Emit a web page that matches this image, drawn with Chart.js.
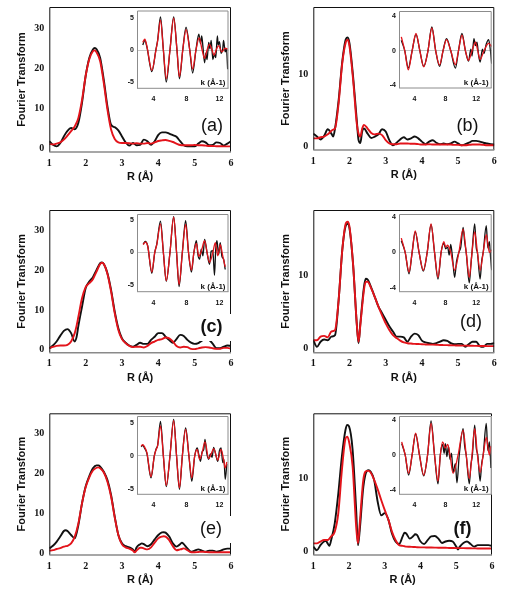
<!DOCTYPE html>
<html><head><meta charset="utf-8">
<script src="https://cdn.jsdelivr.net/npm/chart.js@4/dist/chart.umd.min.js"></script>
<style>
html,body{margin:0;padding:0;background:#fff;}
#wrap{position:relative;width:511px;height:600px;overflow:hidden;}
canvas{position:absolute;left:0;top:0;pointer-events:none;}
</style></head><body><div id="wrap"></div>
<script>
// ---------- tick labels ----------
const rTicks = [1,2,3,4,5,6];
const ftTicksBig = [0,10,20,30];
const ftTicksSmall = [0,10];
const kTicks = [4,8,12];
const chiTicks5 = [-5,0,5];
const chiTicks4 = [-4,0,4];
const panelLabels = ['(a)','(b)','(c)','(d)','(e)','(f)'];

// ---------- Fourier transform magnitudes ----------
const rA = [1.0,1.1,1.2,1.3,1.4,1.5,1.6,1.7,1.8,1.9,2.0,2.1,2.2,2.25,2.3,2.4,2.5,2.6,2.7,2.8,2.9,3.0,3.1,3.2,3.3,3.4,3.5,3.6,3.7,3.8,3.9,4.0,4.1,4.2,4.3,4.4,4.5,4.6,4.7,4.8,4.9,5.0,5.1,5.2,5.3,5.4,5.5,5.6,5.7,5.8,5.9,6.0];
const ftBlackA = [1.7,0.8,0.4,1.2,2.9,4.3,5.0,4.7,6.3,11.3,18,22.5,24.6,25,24.7,22.5,17,10.4,5.8,5.2,4.4,2.9,1.4,0.6,1.25,0.7,0.8,2.1,1.7,0.8,1.7,3.3,3.9,3.9,3.6,3.2,2.8,1.7,0.7,0.4,0.4,0.4,1.1,1.7,1.4,0.7,0.8,1.4,1.25,0.6,1.1,1.7];
const ftRedA = [1.0,0.9,1.1,1.4,2.1,3.1,4.2,5.4,7.5,12,18,22.2,24.2,24.4,23.9,21.7,16.2,9.6,4.6,2.25,1.4,1.25,1.25,1.2,1.1,1.2,1.1,1.1,1.25,1.1,1.4,1.75,1.9,2.0,1.8,1.5,1.1,0.75,0.7,0.7,0.7,0.75,0.7,0.7,0.6,0.5,0.5,0.45,0.45,0.4,0.4,0.4];

const rB = [1.0,1.1,1.2,1.3,1.4,1.5,1.55,1.6,1.7,1.8,1.9,1.95,2.0,2.1,2.2,2.25,2.3,2.35,2.4,2.5,2.6,2.7,2.8,2.9,3.0,3.1,3.2,3.3,3.4,3.5,3.6,3.7,3.8,3.9,4.0,4.1,4.2,4.3,4.4,4.5,4.6,4.7,4.8,4.9,5.0,5.1,5.2,5.3,5.4,5.5,5.6,5.7,5.8,5.9,6.0];
const ftBlackB = [1.8,1.4,1.0,1.5,2.4,1.8,1.4,2.5,6.4,11.7,14.8,15.0,14.2,9.6,3.7,0.9,0.5,2.1,2.5,1.8,1.2,1.4,1.7,2.4,2.1,0.9,0.2,0.55,1.0,1.3,1.0,1.15,1.4,1.15,0.7,0.35,0.7,0.9,0.55,0.35,0.45,0.35,0.45,0.7,0.45,0.2,0.35,0.55,0.8,0.8,0.7,0.55,0.45,0.35,0.3];
const ftRedB = [1.15,1.15,1.3,1.4,1.7,2.2,2.35,2.5,6.0,11.5,14.4,14.7,13.8,9.2,3.2,1.8,1.4,2.5,3.0,2.5,1.9,1.7,1.8,1.6,0.9,0.45,0.35,0.35,0.45,0.45,0.45,0.4,0.4,0.35,0.3,0.3,0.35,0.3,0.3,0.3,0.3,0.3,0.3,0.25,0.25,0.2,0.2,0.25,0.3,0.3,0.3,0.25,0.2,0.2,0.2];

const rC = [1.0,1.1,1.2,1.3,1.4,1.5,1.6,1.7,1.75,1.8,1.9,2.0,2.1,2.2,2.3,2.4,2.45,2.5,2.6,2.7,2.8,2.9,3.0,3.1,3.2,3.3,3.4,3.5,3.6,3.7,3.8,3.9,4.0,4.1,4.2,4.3,4.4,4.5,4.6,4.7,4.8,4.9,5.0,5.1,5.2,5.3,5.4,5.5,5.6,5.7,5.8,5.9,6.0];
const ftBlackC = [0.4,1.1,2.1,3.5,4.75,5.2,4.2,2.1,3.2,6.0,10.8,15.4,17.1,18.2,20,21.7,21.9,21.5,19.2,15,9.6,5.4,2.9,1.8,1.1,0.8,1.25,1.8,1.5,1.5,2.5,3.3,4.2,4.2,3.3,2.5,1.8,2.7,3.75,3.5,2.5,1.8,1.5,1.7,2.3,2.7,2.5,1.5,0.4,0.4,0.8,1.1,1.0];
const ftRedC = [0.4,0.75,1.0,1.1,1.1,1.25,2.1,4.2,6.0,8.3,12.9,15.7,16.7,17.7,19.6,21.5,21.8,21.5,19,14.6,9.2,5,2.7,1.7,1.0,0.7,0.8,0.8,0.6,1.0,1.7,2.1,2.5,2.7,3.1,2.9,2.1,1.0,0.6,0.8,0.7,0.25,0.2,0.4,0.6,0.7,0.6,0.4,0.25,0.3,0.5,0.5,0.3];

const rD = [1.0,1.1,1.2,1.3,1.4,1.5,1.6,1.7,1.8,1.9,1.95,2.0,2.1,2.2,2.25,2.3,2.4,2.45,2.5,2.6,2.7,2.8,2.9,3.0,3.1,3.2,3.3,3.4,3.5,3.6,3.7,3.8,3.9,4.0,4.1,4.2,4.3,4.4,4.5,4.6,4.7,4.8,4.9,5.0,5.1,5.2,5.3,5.4,5.5,5.6,5.7,5.8,5.9,6.0];
const ftBlackD = [1.1,0.2,0.9,1.2,1.1,1.6,1.8,6.6,13.4,16.8,17.0,16.4,11.4,3.4,0.7,3.4,8.4,9.5,9.4,8.3,7.0,5.7,4.8,3.9,3.0,2.3,1.6,1.6,1.5,0.9,1.6,2.0,1.8,1.05,0.8,0.7,0.6,0.7,0.9,1.1,1.0,0.7,0.55,0.6,0.6,0.2,0.6,0.9,0.9,0.3,0.2,0.6,0.6,0.7];
const ftRedD = [1.1,1.1,1.6,1.7,1.5,2.3,2.5,6.6,13.4,17.1,17.3,16.6,11.4,3.4,0.9,3.2,8.0,9.1,9.1,8.2,7.0,5.7,4.5,3.4,2.5,1.8,1.4,1.05,0.8,0.7,0.65,0.6,0.58,0.55,0.53,0.51,0.5,0.48,0.45,0.44,0.43,0.42,0.4,0.38,0.37,0.36,0.35,0.34,0.33,0.32,0.31,0.3,0.3,0.3];

const rE = [1.0,1.1,1.2,1.3,1.4,1.45,1.5,1.6,1.7,1.8,1.9,2.0,2.1,2.2,2.3,2.35,2.4,2.5,2.6,2.7,2.8,2.9,3.0,3.1,3.2,3.3,3.35,3.4,3.5,3.55,3.6,3.7,3.8,3.9,4.0,4.1,4.15,4.2,4.3,4.4,4.5,4.6,4.65,4.7,4.8,4.9,5.0,5.1,5.2,5.3,5.4,5.5,5.6,5.7,5.8,5.9,6.0];
const ftBlackE = [1.25,1.9,2.9,4.2,5.6,5.8,5.6,4.6,3.75,7.1,12.5,16.7,19.3,21.25,22,22,21.7,20.4,18.3,14.6,9.2,4.6,2.5,1.8,1.5,1.0,0.4,1.5,2.3,2.5,2.3,1.8,2.3,3.5,4.6,5.25,5.3,5.2,4.2,2.5,1.7,2.3,2.7,2.3,1.25,0.4,0.7,1.0,0.7,0.4,0.7,0.7,0.4,0.6,1.0,1.2,1.2];
const ftRedE = [0.7,0.8,1.1,1.3,1.7,1.8,1.9,2.5,4.2,7.5,12.5,16.5,19,20.7,21.4,21.5,21.25,20.2,17.9,14.2,9,4.6,2.25,1.5,1.2,0.7,0.25,0.7,1.4,1.4,1.25,1.0,1.5,2.7,3.75,4.2,4.3,4.2,3.3,1.8,0.8,1.0,1.1,1.25,0.8,0.3,0.3,0.35,0.4,0.35,0.3,0.3,0.25,0.28,0.3,0.3,0.3];

const rF = [1.0,1.1,1.2,1.3,1.35,1.4,1.45,1.5,1.6,1.7,1.8,1.9,1.95,2.0,2.1,2.2,2.25,2.3,2.4,2.5,2.55,2.6,2.7,2.8,2.9,3.0,3.1,3.2,3.3,3.4,3.5,3.55,3.6,3.7,3.8,3.85,3.9,4.0,4.1,4.2,4.3,4.4,4.5,4.6,4.7,4.8,4.9,5.0,5.05,5.1,5.2,5.3,5.4,5.5,5.6,5.7,5.8,5.9,6.0];
const ftBlackF = [0.7,0.2,0.9,1.4,1.5,1.15,0.8,1.6,3.9,8.0,13.1,16.7,17.4,17.2,14,5.7,0.9,3.0,8.9,11.1,11.2,11.0,9.9,6.9,5.0,5.3,4.4,2.5,1.4,1.05,2.1,2.6,2.5,1.8,2.15,2.4,2.3,1.4,1.05,1.6,2.1,2.15,1.8,1.2,1.4,1.5,1.4,0.7,0.3,0.7,1.2,1.4,1.05,0.7,0.9,0.9,0.9,0.9,0.8];
const ftRedF = [1.15,1.15,1.4,1.6,1.6,1.6,1.8,2.1,2.75,5.3,11.2,15.5,15.8,15.1,11.7,3.4,1.15,3.9,9.9,11.1,11.1,10.9,9.9,8.6,7.1,5.7,4.4,2.75,1.6,0.9,0.8,0.75,0.7,0.68,0.65,0.64,0.62,0.6,0.6,0.58,0.57,0.56,0.55,0.55,0.54,0.52,0.51,0.5,0.5,0.5,0.49,0.48,0.47,0.46,0.45,0.45,0.45,0.45,0.45];

// ---------- EXAFS chi(k) insets ----------
const kRedA = [2.7,2.95,3.2,3.8,4.3,4.5,4.85,5.2,5.55,6.0,6.45,6.85,7.15,7.55,7.95,8.4,8.75,9.15,9.55,9.9,10.2,10.5,10.8,11.1,11.35,11.6,11.9,12.3,12.7,13.0];
const chiRedA = [1.2,1.7,0.6,-3.2,0,1.4,4.7,0,-4.5,0,5.0,0,-4.2,0,3.2,0,-3.0,0,1.9,0,-1.3,0,0.9,0,-0.8,0,0.7,-0.3,0.3,0.1];
const kBlackA = [2.7,2.95,3.2,3.8,4.3,4.5,4.85,5.2,5.55,6.0,6.45,6.85,7.15,7.55,7.95,8.4,8.75,9.15,9.5,9.7,9.85,10.0,10.2,10.35,10.5,10.7,10.85,11.0,11.2,11.4,11.55,11.75,11.85,12.0,12.2,12.4,12.5,12.7,12.85,13.0];
const chiBlackA = [0.8,1.5,0.5,-3.4,0.1,1.5,5.2,0,-5.0,0,5.2,0,-4.5,0,3.6,0,-3.6,0,2.5,1.0,2.2,0.5,-2.0,-0.5,-1.5,1.2,0.2,1.5,-1.5,-0.6,-1.2,2.2,0.8,1.3,-0.5,0.2,1.5,-0.3,0.2,-3.0];

const kRedB = [2.3,2.75,3.2,3.7,4.2,4.7,5.2,5.75,6.25,6.75,7.25,7.7,8.15,8.7,9.3,9.7,10.15,10.6,11.0,11.45,11.9,12.2,12.5,13.0,13.6,14.0];
const chiRedB = [1.6,0,-2.2,0,2.0,0,-1.85,0,2.65,0,-1.65,0,1.3,0,-1.6,0,1.8,0,-1.1,0,1.0,0,-1.0,0,0.85,0.5];
const kBlackB = [2.3,2.75,3.2,3.7,4.2,4.7,5.2,5.75,6.25,6.75,7.25,7.7,8.15,8.7,9.3,9.7,10.15,10.6,11.0,11.3,11.45,11.7,11.9,12.1,12.3,12.5,12.8,13.0,13.3,13.6,13.8,14.0];
const chiBlackB = [1.2,0,-2.0,0,1.9,0,-1.8,0,2.75,0,-1.8,0,1.4,0,-2.0,0,2.0,0,-1.2,0.2,-0.6,1.4,0.6,1.0,-0.5,-1.3,0.2,-0.3,0.8,1.3,0.3,-1.5];

const kRedC = [2.75,3.0,3.3,3.8,4.15,4.4,4.85,5.2,5.55,6.0,6.45,6.8,7.1,7.5,7.9,8.25,8.6,8.9,9.2,9.5,9.8,10.2,10.5,10.8,11.2,11.5,11.8,12.1,12.4,12.7];
const chiRedC = [1.2,1.6,1.0,-3.0,0,1.2,4.4,0,-4.3,0,5.4,0,-4.9,0,4.3,0,-2.7,0,1.4,-0.6,0.2,1.8,0,-1.5,0,1.5,-0.5,1.2,-0.5,-2.2];
const kBlackC = [2.75,3.0,3.3,3.8,4.15,4.4,4.85,5.2,5.55,6.0,6.45,6.8,7.1,7.5,7.9,8.25,8.6,8.9,9.2,9.4,9.6,9.8,10.0,10.2,10.4,10.6,10.8,11.0,11.2,11.4,11.55,11.7,11.9,12.1,12.3,12.5,12.7];
const chiBlackC = [1.3,1.7,1.0,-3.2,0,1.3,4.8,0,-4.4,0,5.5,0,-5.2,0,4.9,0,-3.0,0,1.8,-0.4,-1.0,0.5,-0.5,2.0,0.8,-0.8,-1.8,0.2,0.3,-3.5,0.5,1.8,-0.3,1.5,-0.6,-1.0,-2.6];

const kRedD = [2.3,2.8,3.3,3.7,4.1,4.6,5.15,5.65,6.15,6.6,7.05,7.45,7.8,8.05,8.3,8.7,9.2,9.75,10.3,10.7,11.1,11.45,11.8,12.15,12.5,12.9,13.3,13.7,14.0];
const chiRedD = [1.6,0,-2.2,0,2.4,0,-2.0,0,3.2,0,-2.8,0,1.2,0.6,0.8,0,-2.0,0,2.6,0,-2.8,0,2.3,0,-2.0,0,2.0,0,0.3];
const kBlackD = [2.3,2.8,3.3,3.7,4.1,4.6,5.15,5.65,6.15,6.6,7.05,7.45,7.8,8.05,8.3,8.5,8.7,8.95,9.2,9.45,9.75,10.0,10.3,10.5,10.7,11.1,11.3,11.45,11.8,12.0,12.15,12.5,12.7,12.9,13.3,13.5,13.7,13.85,14.0];
const chiBlackD = [1.3,0,-2.4,0,2.3,0,-2.1,0,3.1,0,-3.0,0,1.0,0.4,0.6,-0.3,0.9,-0.8,-2.8,-1.0,0,0.6,2.8,1.2,0,-3.4,-1.5,0,3.2,0.5,0,-3.0,-1.0,0,3.0,0.5,1.2,-0.5,-2.0];

const kRedE = [2.5,2.7,2.9,3.2,3.7,4.1,4.3,4.5,4.85,5.2,5.55,6.0,6.45,6.8,7.15,7.5,7.9,8.3,8.65,9.0,9.3,9.6,9.9,10.25,10.7,11.0,11.3,11.8,12.2,12.5,12.7,12.9];
const chiRedE = [1.5,1.7,1.4,0.5,-3.1,0,0.9,1.5,4.5,0,-4.4,0,5.3,0,-4.8,0,4.0,0,-3.3,0,1.0,-0.5,0.5,2.1,-0.4,0.3,1.1,-0.6,1.0,-0.5,-1.8,-0.9];
const kBlackE = [2.5,2.7,2.9,3.2,3.7,4.1,4.3,4.5,4.85,5.2,5.55,6.0,6.45,6.8,7.15,7.5,7.9,8.3,8.65,9.0,9.3,9.5,9.7,9.9,10.1,10.25,10.45,10.7,10.9,11.1,11.3,11.5,11.8,12.0,12.2,12.4,12.55,12.7,12.9];
const chiBlackE = [1.4,1.6,1.2,0.4,-3.3,0,1.0,1.6,5.2,0,-4.6,0,5.5,0,-5.0,0,4.2,0,-3.8,0,1.2,0.2,-0.8,0.6,1.0,2.5,0.5,-0.5,0.3,-0.2,1.3,0.5,-0.8,0.8,1.2,-1.0,-0.5,-3.5,-1.2];

const kRedF = [2.35,2.8,3.25,3.7,4.15,4.65,5.2,5.7,6.15,6.6,7.05,7.35,7.65,8.0,8.3,8.6,9.0,9.65,10.3,10.7,11.1,11.45,11.8,12.15,12.5,12.9,13.3,13.7,13.9];
const chiRedF = [1.5,0,-2.1,0,2.5,0,-2.3,0,3.6,0,-3.0,0,1.5,0.8,1.2,0,-2.1,0,2.85,0,-2.7,0,3.0,0,-2.0,0,2.0,0,1.0];
const kBlackF = [2.35,2.8,3.25,3.7,4.15,4.65,5.2,5.7,6.15,6.6,7.05,7.35,7.65,7.85,8.0,8.2,8.4,8.6,8.8,9.0,9.3,9.5,9.8,10.3,10.5,10.7,11.1,11.3,11.5,11.8,12.0,12.2,12.5,12.7,12.9,13.3,13.5,13.7,13.9];
const chiBlackF = [1.3,0,-2.3,0,2.4,0,-2.4,0,3.9,0,-3.3,0,1.2,0.2,1.3,-0.2,1.0,-0.5,0.2,-2.0,-1.0,-3.2,0,3.0,1.0,0,-3.3,-1.2,0,3.4,0.8,0,-3.0,-1.0,0,3.6,0.5,1.5,-1.5];

// ---------- rendering ----------
Chart.defaults.font.family = "'Liberation Sans', Arial, sans-serif";
const BLACK = '#111111', RED = '#e3141b';
const PAGE_W = 511, PAGE_H = 600;
const wrap = document.getElementById('wrap');
function newCanvas(){
  const c = document.createElement('canvas');
  c.width = PAGE_W; c.height = PAGE_H;
  c.style.width = PAGE_W+'px'; c.style.height = PAGE_H+'px';
  wrap.appendChild(c); return c;
}
function xy(xs, ys){ return xs.map((x,i)=>({x:x, y:ys[i]})); }

const framePlugin = {
  id:'frame',
  beforeDraw(chart, args, o){
    if (o.whiteBg){
      const a = chart.chartArea, ctx = chart.ctx;
      ctx.save(); ctx.fillStyle = '#fff';
      ctx.fillRect(a.left, a.top, a.right-a.left, a.bottom-a.top);
      ctx.restore();
    }
  },
  afterDraw(chart, args, o){
    const a = chart.chartArea, ctx = chart.ctx;
    ctx.save();
    ctx.lineWidth = o.sideWidth;
    ctx.strokeStyle = o.sideColor;
    ctx.beginPath();
    ctx.moveTo(a.left+0.5, a.bottom);
    ctx.lineTo(a.left+0.5, a.top+0.5);
    ctx.lineTo(a.right-0.5, a.top+0.5);
    ctx.lineTo(a.right-0.5, a.bottom);
    ctx.stroke();
    ctx.strokeStyle = o.bottomColor; ctx.lineWidth = o.bottomWidth;
    ctx.beginPath(); ctx.moveTo(a.left, a.bottom); ctx.lineTo(a.right, a.bottom); ctx.stroke();
    if (o.label){
      const L = o.label;
      if (L.bg){
        ctx.fillStyle = '#fff';
        ctx.fillRect(L.x-13, L.y-13, a.right+2-(L.x-13), 27);
      }
      ctx.fillStyle = '#111';
      ctx.font = (L.bold?'bold ':'') + '18px "Liberation Sans", Arial, sans-serif';
      ctx.textAlign = 'center'; ctx.textBaseline = 'middle';
      ctx.fillText(L.text, L.x, L.y);
    }
    if (o.kLabel){
      ctx.fillStyle = '#111';
      ctx.font = 'bold 8px "Liberation Sans", Arial, sans-serif';
      ctx.textAlign = 'right'; ctx.textBaseline = 'alphabetic';
      ctx.fillText(o.kLabel, a.right-3, a.bottom-3);
    }
    ctx.restore();
  }
};

function setTicks(list){ return function(s){ s.ticks = list.map(v=>({value:v})); }; }

function mainChart(p, idx){
  const m = p.main, W = 34, H = 32;
  return new Chart(newCanvas(), {
    type:'line',
    data:{datasets:[
      {data:xy(p.R,p.red), borderColor:RED, borderWidth:1.9, pointRadius:0, cubicInterpolationMode:'monotone'},
      {data:xy(p.R,p.black), borderColor:BLACK, borderWidth:1.9, pointRadius:0, cubicInterpolationMode:'monotone'}
    ]},
    options:{
      responsive:false, animation:false, devicePixelRatio:1, events:[],
      layout:{padding:{left:m.l-W, top:m.t, right:PAGE_W-m.r, bottom:PAGE_H-m.b-H}},
      plugins:{legend:{display:false}, tooltip:{enabled:false},
        frame:{sideColor:'#111', sideWidth:1, bottomColor:'#8a8a8a', bottomWidth:1.5,
               label:{text:panelLabels[idx], x:p.lab.x, y:p.lab.y, bg:p.lab.bg, bold:p.lab.bold}}},
      scales:{
        x:{type:'linear', min:1, max:6,
           afterBuildTicks:setTicks(rTicks),
           afterFit(s){ s.height = H; s.paddingLeft = 0; s.paddingRight = 0; },
           grid:{display:false, drawTicks:false}, border:{display:false},
           ticks:{font:{family:'"Liberation Serif", "Times New Roman", serif', weight:'bold', size:10}, color:'#111', padding:5, maxRotation:0, autoSkip:false},
           title:{display:true, text:'R (Å)', color:'#111', font:{weight:'bold', size:11}, padding:0}},
        y:{type:'linear', min:m.ymin, max:m.ymax,
           afterBuildTicks:setTicks(m.yt),
           afterFit(s){ s.width = W; s.paddingTop = 0; s.paddingBottom = 0; },
           grid:{display:false, drawTicks:false}, border:{display:false},
           ticks:{font:{family:'"Liberation Serif", "Times New Roman", serif', weight:'bold', size:10}, color:'#111', padding:5, autoSkip:false},
           title:{display:true, text:'Fourier Transform', color:'#111', font:{weight:'bold', size:11}, padding:0}}
      }
    },
    plugins:[framePlugin]
  });
}

function insetChart(p){
  const n = p.inset, W = 14, H = 18;
  return new Chart(newCanvas(), {
    type:'line',
    data:{datasets:[
      {data:xy(p.kr,p.cr), borderColor:RED, borderWidth:1.3, pointRadius:0, cubicInterpolationMode:'monotone'},
      {data:xy(p.kb,p.cb), borderColor:BLACK, borderWidth:1.3, pointRadius:0, cubicInterpolationMode:'monotone'}
    ]},
    options:{
      responsive:false, animation:false, devicePixelRatio:1, events:[],
      layout:{padding:{left:n.l-W, top:n.t, right:PAGE_W-n.r, bottom:PAGE_H-n.b-H}},
      plugins:{legend:{display:false}, tooltip:{enabled:false},
        frame:{whiteBg:true, sideColor:'#8c8c8c', sideWidth:1, bottomColor:'#8c8c8c', bottomWidth:1, kLabel:'k (Å-1)'}},
      scales:{
        x:{type:'linear', min:2, max:n.xmax,
           afterBuildTicks:setTicks(kTicks),
           afterFit(s){ s.height = H; s.paddingLeft = 0; s.paddingRight = 0; },
           grid:{display:false, drawTicks:false}, border:{display:false},
           ticks:{font:{weight:'bold', size:7}, color:'#111', padding:7, maxRotation:0, autoSkip:false}},
        y:{type:'linear', min:n.ymin, max:n.ymax,
           afterBuildTicks:setTicks(n.yt),
           afterFit(s){ s.width = W; s.paddingTop = 0; s.paddingBottom = 0; },
           grid:{drawTicks:false, lineWidth:1, color:(c)=> (c.tick && c.tick.value===0) ? '#c4c4c4' : 'rgba(0,0,0,0)'},
           border:{display:false},
           ticks:{font:{weight:'bold', size:7}, color:'#111', padding:3, autoSkip:false}}
      }
    },
    plugins:[framePlugin]
  });
}

const panels = [
  {main:{l:49.3,t:7,r:231,b:152,ymin:-1,ymax:35.25,yt:ftTicksBig},
   inset:{l:137,t:10.5,r:228.5,b:88.3,ymin:-6,ymax:6.2,xmax:13.1,yt:chiTicks5},
   lab:{x:212,y:126,bg:false,bold:false},
   R:rA, black:ftBlackA, red:ftRedA, kb:kBlackA, cb:chiBlackA, kr:kRedA, cr:chiRedA},
  {main:{l:313.3,t:7,r:494.3,b:150,ymin:-0.45,ymax:19.2,yt:ftTicksSmall},
   inset:{l:399,t:11,r:491.7,b:88,ymin:-4.3,ymax:4.6,xmax:14,yt:chiTicks4},
   lab:{x:467.5,y:126.5,bg:false,bold:false},
   R:rB, black:ftBlackB, red:ftRedB, kb:kBlackB, cb:chiBlackB, kr:kRedB, cr:chiRedB},
  {main:{l:49.3,t:210,r:231,b:352.7,ymin:-0.7,ymax:35,yt:ftTicksBig},
   inset:{l:137,t:214,r:228.5,b:291.7,ymin:-6,ymax:5.9,xmax:13.1,yt:chiTicks5},
   lab:{x:211.5,y:327,bg:true,bold:true},
   R:rC, black:ftBlackC, red:ftRedC, kb:kBlackC, cb:chiBlackC, kr:kRedC, cr:chiRedC},
  {main:{l:313.3,t:210,r:494.3,b:352.7,ymin:-0.6,ymax:18.9,yt:ftTicksSmall},
   inset:{l:399,t:214,r:491.7,b:291.7,ymin:-4.4,ymax:4.3,xmax:14,yt:chiTicks4},
   lab:{x:471,y:322.5,bg:false,bold:false},
   R:rD, black:ftBlackD, red:ftRedD, kb:kBlackD, cb:chiBlackD, kr:kRedD, cr:chiRedD},
  {main:{l:49.3,t:413.3,r:231,b:555,ymin:-0.4,ymax:35,yt:ftTicksBig},
   inset:{l:137,t:416,r:228.5,b:494.3,ymin:-5.75,ymax:6.0,xmax:13.1,yt:chiTicks5},
   lab:{x:211,y:529,bg:true,bold:false},
   R:rE, black:ftBlackE, red:ftRedE, kb:kBlackE, cb:chiBlackE, kr:kRedE, cr:chiRedE},
  {main:{l:313.3,t:413.3,r:492,b:555,ymin:-0.45,ymax:19.0,yt:ftTicksSmall},
   inset:{l:399,t:416,r:491.7,b:494.3,ymin:-4.5,ymax:4.46,xmax:14,yt:chiTicks4},
   lab:{x:462.5,y:529,bg:false,bold:true},
   R:rF, black:ftBlackF, red:ftRedF, kb:kBlackF, cb:chiBlackF, kr:kRedF, cr:chiRedF}
];

panels.forEach((p,i)=>mainChart(p,i));
panels.forEach((p)=>insetChart(p));
</script></body></html>
